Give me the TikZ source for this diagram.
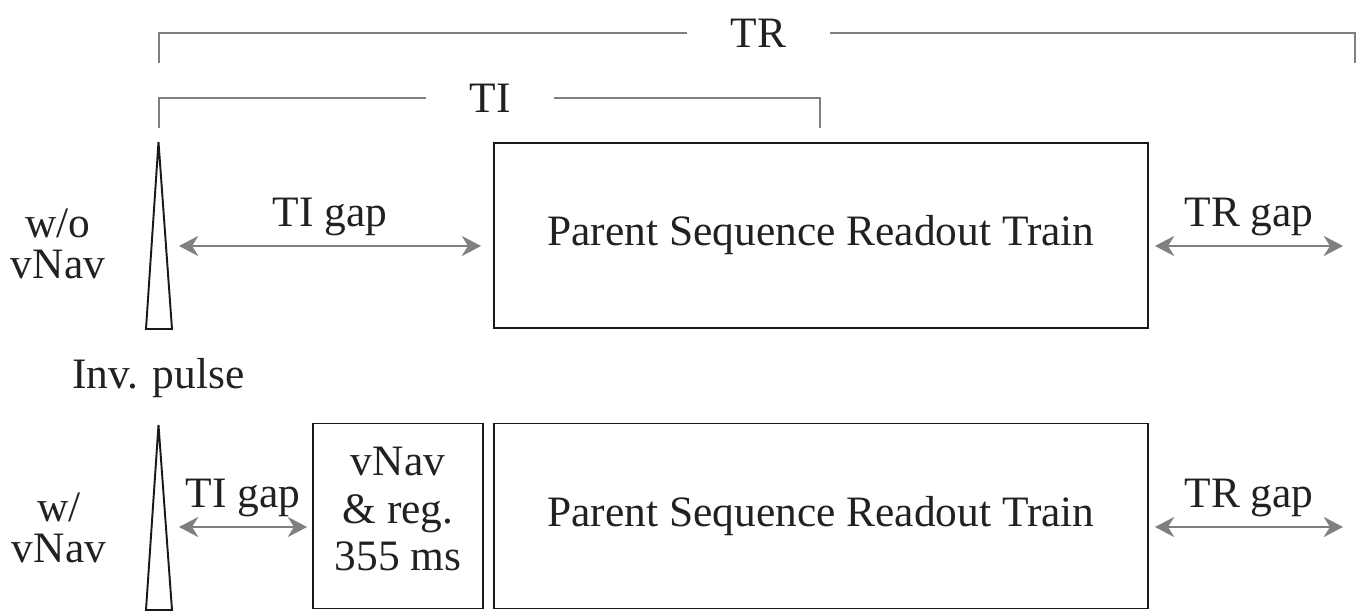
\documentclass[tikz,border=0pt]{standalone}
\usepackage{fontspec}
\setmainfont{Liberation Serif}
\usetikzlibrary{arrows.meta,positioning,calc}

\begin{document}
\begin{tikzpicture}[
  font=\fontsize{24.7}{27}\selectfont,
  txt/.style={text=black!87, align=center, inner sep=1pt},
  seqbox/.style={draw=black!90, line width=1.1pt, minimum height=3.7cm,
                 txt, inner sep=0pt},
  pulse/.style={draw=black!90, line width=1.1pt},
  gap/.style={{Stealth[length=11pt,width=11.5pt]}-{Stealth[length=11pt,width=11.5pt]},
              draw=black!50, line width=1.1pt},
  bracket/.style={draw=black!50, line width=1.1pt},
  lbl/.style={txt, midway, above=4pt},
  span/.style={txt, inner xsep=0.87cm},
  row/.style={txt, font=\fontsize{24.7}{23}\selectfont}
]
\useasboundingbox (0,0) rectangle (27.22,12.24);

% --- Readout blocks ---
\node[seqbox, minimum width=13.08cm] (ro1) at (16.42,7.53)
  {Parent Sequence Readout Train};
\node[seqbox, minimum width=13.08cm] (ro2) at (16.42,1.92)
  {Parent Sequence Readout Train};
\node[seqbox, minimum width=3.4cm, text depth=0.28cm] (nav) at (7.96,1.92)
  {vNav\\ \& reg.\\ 355 ms};

% --- Inversion pulses ---
\coordinate (p1) at (3.17,9.40);
\coordinate (p2) at (3.17,3.74);
\draw[pulse] (p1) -- (3.44,5.66) -- (2.92,5.66) -- cycle;
\draw[pulse] (p2) -- (3.44,0.04) -- (2.92,0.04) -- cycle;

% --- Row labels ---
\node[row] (wo) at (1.16,7.36) {w/o\\ vNav};
\node[row] (w) at (1.18,1.68) {w/\\ vNav};
\node[txt] (inv) at (3.17,4.68) {Inv. pulse};

% --- Gaps ---
\coordinate (ti1) at (3.58,7.32);
\coordinate (tr1) at (26.86,7.32);
\coordinate (ti2) at (3.58,1.70);
\coordinate (tr2) at (26.86,1.70);
\draw[gap] (ti1) -- node[lbl] {TI gap} (ti1 -| {$(ro1.west)+(-0.24,0)$});
\draw[gap] (ro1.east |- tr1) ++(0.12,0) -- node[lbl] {TR gap} (tr1);
\draw[gap] (ti2) -- node[lbl] {TI gap} (ti2 -| {$(nav.west)+(-0.1,0)$});
\draw[gap] (ro2.east |- tr2) ++(0.12,0) -- node[lbl] {TR gap} (tr2);

% --- TR and TI spans ---
\node[span] (TR) at (15.17,11.58) {TR};
\node[span] (TI) at (9.80,10.28) {TI};
\coordinate (trL) at (3.18,10.98);
\coordinate (trR) at (27.10,10.98);
\coordinate (tiL) at (3.18,9.68);
\coordinate (tiR) at (16.40,9.68);
\draw[bracket] (trL) |- (TR.west);
\draw[bracket] (TR.east) -| (trR);
\draw[bracket] (tiL) |- (TI.west);
\draw[bracket] (TI.east) -| (tiR);
\end{tikzpicture}
\end{document}
